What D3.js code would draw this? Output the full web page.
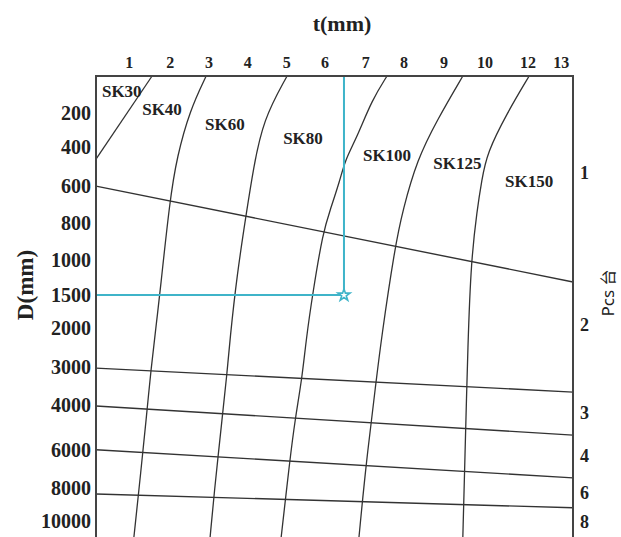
<!DOCTYPE html>
<html>
<head>
<meta charset="utf-8">
<script src="https://cdn.jsdelivr.net/npm/d3@7"></script>
<style>
  body { margin: 0; background: #fff; }
  text { font-family: "Liberation Serif", serif; font-weight: bold; fill: #222; }
</style>
</head>
<body>
<div id="chart"></div>
<script>
// tick labels and where they sit, in chart units (column / row of the grid)
var tTicks = ["1", "2", "3", "4", "5", "6", "7", "8", "9", "10", "12", "13"];
var tCol = [0, 1.04, 2.02, 3.0, 3.99, 4.96, 5.99, 6.96, 7.97, 9.01, 10.1, 10.94];

var dTicks = ["200", "400", "600", "800", "1000", "1500", "2000", "3000", "4000", "6000", "8000", "10000"];
var dRow = [0, 0.91, 1.95, 2.93, 3.92, 4.86, 5.74, 6.78, 7.79, 8.99, 10.01, 10.9];

var pcsTicks = ["1", "2", "3", "4", "6", "8"];
var pcsRow = [1.6, 5.66, 8.01, 9.16, 10.14, 10.92];

var models = ["SK30", "SK40", "SK60", "SK80", "SK100", "SK125", "SK150"];
var modelLabelAt = [[-0.69, -0.43], [0.33, 0.05], [1.92, 0.45], [3.9, 0.82], [5.92, 1.28], [7.7, 1.49], [9.52, 1.97]];

// boundary curves between models, [col, row]
var curveSK30 = [[0.58, -0.99], [-0.84, 1.23]];
var curveSK40 = [[1.95, -0.99], [1.54, -0.08], [1.21, 1.17], [1.03, 2.32], [0.78, 4.8], [0.7, 5.52], [0.55, 6.86], [0.43, 8.19], [0.3, 9.53], [0.12, 11.32]];
var curveSK60 = [[4.0, -0.99], [3.39, 0.18], [3.14, 1.52], [2.98, 2.59], [2.73, 4.32], [2.55, 6.06], [2.48, 6.94], [2.35, 8.19], [2.15, 10.17], [2.05, 11.32]];
var curveSK80 = [[6.53, -0.99], [6.15, -0.35], [5.77, 0.64], [5.47, 1.25], [5.34, 1.79], [5.09, 2.59], [4.91, 3.17], [4.65, 4.8], [4.48, 6.06], [4.38, 7.07], [4.2, 8.19], [4.07, 9.26], [3.85, 11.32]];
var curveSK100 = [[8.45, -0.99], [7.8, 0.18], [7.29, 1.25], [6.93, 2.59], [6.73, 3.58], [6.38, 6.06], [6.25, 7.21], [6.0, 9.35], [5.82, 11.32]];
var curveSK125 = [[10.13, -0.99], [9.57, 0], [9.06, 1.07], [8.93, 1.79], [8.81, 2.59], [8.66, 3.95], [8.58, 6.06], [8.5, 9.35], [8.45, 11.32]];

// D lines: start row on the left, end row on the Pcs side
var dLineNames = ["600", "3000", "4000", "6000", "8000"];
var dLineStart = [1.95, 6.81, 7.82, 8.99, 10.17];
var dLineEnd = [4.51, 7.45, 8.6, 9.74, 10.54];

// example reading
var guideCol = 5.44;
var guideD = "1500";

var W = 621, H = 537;
var colExtent = [-0.84, 11.24];
var rowExtent = [-0.99, 11.4];

var svg = d3.select("#chart").append("svg")
    .attr("width", W)
    .attr("height", H);

var x = d3.scaleLinear().domain(colExtent).range([96, 573]);
var y = d3.scaleLinear().domain(rowExtent).range([76, 540]);

// curves
var line = d3.line()
    .x(function (d) { return x(d[0]); })
    .y(function (d) { return y(d[1]); })
    .curve(d3.curveBasis);

var curves = [curveSK30, curveSK40, curveSK60, curveSK80, curveSK100, curveSK125];
svg.append("g").selectAll("path")
    .data(curves)
    .enter().append("path")
    .attr("d", line)
    .attr("fill", "none")
    .attr("stroke", "#333")
    .attr("stroke-width", 1.3);

// D lines
svg.append("g").selectAll("line")
    .data(dLineNames)
    .enter().append("line")
    .attr("x1", x(colExtent[0]))
    .attr("x2", x(colExtent[1]))
    .attr("y1", function (d, i) { return y(dLineStart[i]); })
    .attr("y2", function (d, i) { return y(dLineEnd[i]); })
    .attr("stroke", "#333")
    .attr("stroke-width", 1.4);

// guide
var gRow = dRow[dTicks.indexOf(guideD)];
var cyan = "#3fb4c9";
svg.append("path")
    .attr("d", d3.line()([[x(guideCol), y(rowExtent[0])], [x(guideCol), y(gRow)], [x(colExtent[0]), y(gRow)]]))
    .attr("fill", "none")
    .attr("stroke", cyan)
    .attr("stroke-width", 2);
svg.append("path")
    .attr("d", d3.symbol().type(d3.symbolStar).size(45)())
    .attr("transform", "translate(" + x(guideCol) + "," + y(gRow) + ")")
    .attr("fill", "#fff")
    .attr("stroke", cyan)
    .attr("stroke-width", 1.6);

// frame
svg.append("rect")
    .attr("x", x(colExtent[0]))
    .attr("y", y(rowExtent[0]))
    .attr("width", x(colExtent[1]) - x(colExtent[0]))
    .attr("height", y(rowExtent[1]) - y(rowExtent[0]))
    .attr("fill", "none")
    .attr("stroke", "#444")
    .attr("stroke-width", 2);

// top ticks
svg.append("g").selectAll("text")
    .data(tTicks)
    .enter().append("text")
    .attr("x", function (d, i) { return x(tCol[i]); })
    .attr("y", 68)
    .attr("text-anchor", "middle")
    .style("font-size", "16px")
    .text(function (d) { return d; });

// left ticks
svg.append("g").selectAll("text")
    .data(dTicks)
    .enter().append("text")
    .attr("x", 91)
    .attr("y", function (d, i) { return y(dRow[i]); })
    .attr("dy", "0.35em")
    .attr("text-anchor", "end")
    .style("font-size", "20px")
    .text(function (d) { return d; });

// right ticks
svg.append("g").selectAll("text")
    .data(pcsTicks)
    .enter().append("text")
    .attr("x", 580)
    .attr("y", function (d, i) { return y(pcsRow[i]); })
    .attr("dy", "0.35em")
    .style("font-size", "18px")
    .text(function (d) { return d; });

// model labels
svg.append("g").selectAll("text")
    .data(models)
    .enter().append("text")
    .attr("x", function (d, i) { return x(modelLabelAt[i][0]); })
    .attr("y", function (d, i) { return y(modelLabelAt[i][1]); })
    .style("font-size", "17px")
    .text(function (d) { return d; });

// titles
svg.append("text")
    .attr("x", 342)
    .attr("y", 31)
    .attr("text-anchor", "middle")
    .style("font-size", "22px")
    .text("t(mm)");

svg.append("text")
    .attr("transform", "translate(33,285) rotate(-90)")
    .attr("text-anchor", "middle")
    .style("font-size", "23px")
    .text("D(mm)");

var pcs = svg.append("text")
    .attr("transform", "translate(614,293) rotate(-90)")
    .attr("text-anchor", "middle")
    .style("font-weight", "normal");
pcs.append("tspan")
    .style("font-family", "'Noto Sans', sans-serif")
    .style("font-size", "17px")
    .text("Pcs ");
pcs.append("tspan")
    .style("font-family", "'Noto Sans CJK SC', sans-serif")
    .style("font-size", "16px")
    .text("台");
</script>
</body>
</html>
